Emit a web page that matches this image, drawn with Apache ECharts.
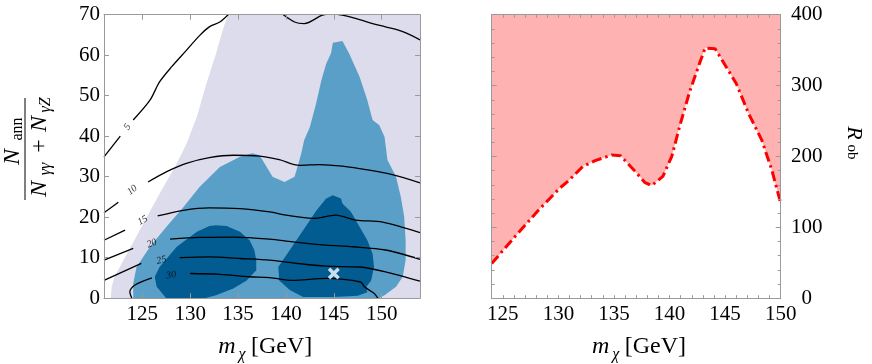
<!DOCTYPE html>
<html>
<head>
<meta charset="utf-8">
<script src="https://cdn.jsdelivr.net/npm/echarts@6/dist/echarts.min.js"></script>
<style>
  html, body { margin: 0; padding: 0; background: #fff; }
  #main { width: 872px; height: 364px; }
</style>
</head>
<body>
<div id="main"></div>
<script>
// ---- left panel: filled regions (m_chi, ratio) ----
const lavenderRegion = [[121.7,0],[121.8,2.8],[122.1,5.3],[123.4,11],[125.1,18.4],[126.8,25.8],[128.4,32.4],[129.6,38],[130.7,44.8],[131.7,53],[132.7,60.4],[133.4,66.2],[133.95,70],[154,70],[154,0]];
const blueRegion = [[124.05,0],[124.05,3.6],[124.4,7.7],[125.8,12.7],[127.5,17.6],[129.3,22.5],[131,27.5],[133.1,32.4],[135.2,34.9],[136.5,35.8],[137.25,35.3],[138.6,30],[139.85,28.7],[140.9,30],[141.2,32.4],[141.6,35.7],[141.9,39],[142.5,42.3],[143.15,48.1],[143.7,53.8],[144.2,57.9],[144.7,60.4],[144.9,63.1],[145.9,63.5],[146.6,60.4],[147.7,54.6],[148.5,48.9],[149.05,44],[149.75,42.7],[150.3,39.8],[150.6,34.1],[151.5,30],[152,25],[152.35,20.1],[152.5,14.3],[152.5,9.4],[152.2,5.3],[151.5,2.8],[150.3,0.7],[149.75,0]];
const darkRegionA = [[127.5,0],[126.5,2.8],[126.3,5.3],[126.8,7.7],[128.6,12.7],[130.7,16.4],[132,17.8],[132.7,18.0],[133.8,17.8],[135.2,16.4],[136.2,14.3],[136.7,11.9],[136.9,9.4],[136.9,6.9],[135.9,4.4],[134.5,2.4],[132.7,0.7],[131.5,0]];
const darkRegionB = [[141.8,0.3],[140.4,2.0],[139.3,4.4],[139.2,7.7],[140.4,11.9],[141.8,16.8],[143.2,21.7],[144.2,24.6],[144.9,25.4],[145.75,24.6],[145.9,23.4],[146.8,21.3],[147.7,17.6],[148.5,14.3],[149.05,11],[149.2,7.7],[148.9,4.4],[148.4,2.8],[148.5,1.5],[147.5,0.6],[145,0.3]];

// ---- left panel: contour lines ----
const contour5a = [[121,34.9],[122.7,40]];
const contour5b = [[124.05,44],[125.8,48.9],[126.8,53.4],[128.05,57.1],[129.6,61.2],[131,64.9],[132,67],[133.1,68.2],[134.1,70.3]];
const contour5c = [[139.5,70.4],[140.9,68.2],[141.9,67.8],[143.8,69.9],[144.8,70.3],[145.9,69.9],[147.7,68.8],[149.05,67.8],[150.4,67],[152.2,65.8],[154,63.8]];
const contour10a = [[121,21.1],[122.5,23.7]];
const contour10b = [[125.6,28.7],[127.5,31.2],[129.6,33.3],[132,34.7],[134.5,35.3],[137.25,35.1],[139.3,34.2],[141.4,32.8],[143.5,33.0],[145.9,32.6],[148.7,31.6],[151.1,30.5],[154,28.5]];
const contour15a = [[121,14.3],[123.2,16.8]];
const contour15b = [[126.6,20.3],[129.3,21.7],[132,22.3],[135.2,22.1],[138.3,21.3],[140,20.5],[142.8,19.7],[145.2,20.5],[147.3,19.3],[150.1,18.8],[154,16.2]];
const contour20a = [[121,9.4],[124.05,12.3]];
const contour20b = [[127.9,14.6],[131,15.0],[134.5,15.1],[138.3,14.6],[140.7,13.9],[144.2,13.1],[147,12.7],[150.4,11.9],[154,9.6]];
const contour25a = [[121,4.4],[124.9,8.6]];
const contour25b = [[128.9,10.0],[132,10.2],[135.2,9.8],[138.3,9.4],[140.7,8.7],[144.2,7.9],[147.7,7.7],[150.4,6.5],[154,4.2]];
const contour30a = [[123.9,0],[123.7,1.6],[124.2,3.2],[126,5.0]];
const contour30b = [[130,6.1],[133.1,5.9],[136.2,5.3],[138.3,5.1],[140.7,4.4],[144.2,4.9],[147.8,4.0],[148.2,2.8],[149.2,1.2],[149.6,0]];
// label text, x, y, angle
const contourLabels = [['5',123.45,42.3,55],['10',123.95,26.7,38],['15',125.05,19.2,30],['20',126.0,13.5,22],['25',127.0,9.4,15],['30',128.0,5.7,8]];
const bestFit = [[145,6.1]];

// ---- right panel: R^ob bound ----
const massR = [124.0,126.1,128.2,130.1,131.0,132.2,133.3,134.8,135.6,136.9,137.8,138.4,139.4,140.2,140.9,141.8,142.6,143.2,144.1,144.8,146.0,147.1,148.3,149.2,150.0];
const robR  = [49,87,124,155,167,186,194,202,201,179,163,159,172,200,242,291,327,353,352,334,303,261,223,181,134];

// ---- ticks ----
const xTicksL = [125,130,135,140,145,150];
const xTicksR = [125,130,135,140,145,150];

const FONT = 'Liberation Serif';
const FRAME = '#9a9a9a';

const chart = echarts.init(document.getElementById('main'));

function region(data, color, z) {
  return {
    type: 'custom', xAxisIndex: 0, yAxisIndex: 0, z: z, clip: true,
    data: [[data[0][0], data[0][1]]],
    renderItem: function (params, api) {
      return {
        type: 'polygon',
        shape: { points: data.map(p => api.coord(p)) },
        style: { fill: color }
      };
    }
  };
}
function contour(data) {
  return {
    type: 'line', xAxisIndex: 0, yAxisIndex: 0, z: 5, data: data,
    showSymbol: false, smooth: 0.3, clip: true, silent: true,
    lineStyle: { color: '#000', width: 1.3 }
  };
}
function frameAxis(grid, pos, min, max, extra) {
  return Object.assign({
    type: 'value', gridIndex: grid, position: pos, min: min, max: max, z: 10,
    axisLine: { show: true, onZero: false, lineStyle: { color: FRAME, width: 1 } },
    axisTick: { show: true, inside: true, length: 5, lineStyle: { color: FRAME } },
    axisLabel: { show: false },
    splitLine: { show: false }
  }, extra);
}
const tickLabel = { color: '#000', fontFamily: FONT, fontSize: 21 };

chart.setOption({
  animation: false,
  grid: [
    { left: 104, top: 14.7, width: 316, height: 283.5 },
    { left: 491.7, top: 14.7, width: 289, height: 283.5 }
  ],
  xAxis: [
    frameAxis(0, 'bottom', 121, 154, {
      axisTick: { show: true, inside: true, length: 5, customValues: xTicksL, lineStyle: { color: FRAME } },
      axisLabel: Object.assign({ show: true, margin: 6, customValues: xTicksL }, tickLabel)
    }),
    frameAxis(0, 'top', 121, 154, {
      axisTick: { show: true, inside: true, length: 5, customValues: xTicksL, lineStyle: { color: FRAME } }
    }),
    frameAxis(1, 'bottom', 124, 150, {
      interval: 1,
      axisTick: { show: true, inside: true, length: 3, lineStyle: { color: FRAME } },
      axisLabel: Object.assign({ show: true, margin: 6, customValues: xTicksR }, tickLabel)
    }),
    frameAxis(1, 'top', 124, 150, {
      interval: 1,
      axisTick: { show: true, inside: true, length: 3, lineStyle: { color: FRAME } }
    })
  ],
  yAxis: [
    frameAxis(0, 'left', 0, 70, {
      interval: 10,
      axisLabel: Object.assign({ show: true, margin: 4 }, tickLabel)
    }),
    frameAxis(0, 'right', 0, 70, { interval: 10 }),
    frameAxis(1, 'right', 0, 400, {
      interval: 100,
      minorTick: { show: true, splitNumber: 5, length: 3, lineStyle: { color: FRAME } },
      axisLabel: Object.assign({ show: true, margin: 26, align: 'center' }, tickLabel)
    }),
    frameAxis(1, 'left', 0, 400, {
      interval: 100,
      minorTick: { show: true, splitNumber: 5, length: 3, lineStyle: { color: FRAME } }
    })
  ],
  series: [
    region(lavenderRegion, '#dcdcec', 1),
    region(blueRegion, '#5a9fc8', 2),
    region(darkRegionA, '#035c91', 3),
    region(darkRegionB, '#035c91', 3),
    contour(contour5a), contour(contour5b), contour(contour5c),
    contour(contour10a), contour(contour10b),
    contour(contour15a), contour(contour15b),
    contour(contour20a), contour(contour20b),
    contour(contour25a), contour(contour25b),
    contour(contour30a), contour(contour30b),
    {
      type: 'scatter', xAxisIndex: 0, yAxisIndex: 0, z: 6, symbolSize: 0, silent: true,
      data: contourLabels.map(c => ({
        value: [c[1], c[2]], name: c[0],
        label: { rotate: c[3] }
      })),
      label: {
        show: true, position: 'inside', formatter: '{b}',
        color: '#000', fontFamily: FONT, fontSize: 10, fontStyle: 'italic'
      }
    },
    {
      type: 'scatter', xAxisIndex: 0, yAxisIndex: 0, z: 7, silent: true,
      symbol: 'path://M2,0 L5,3 L8,0 L10,2 L7,5 L10,8 L8,10 L5,7 L2,10 L0,8 L3,5 L0,2 Z',
      symbolSize: 12,
      itemStyle: { color: '#fff' },
      data: bestFit
    },
    {
      type: 'line', xAxisIndex: 2, yAxisIndex: 2, z: 3, silent: true,
      data: massR.map((m, i) => [m, robR[i]]),
      showSymbol: false,
      lineStyle: { color: '#ff0000', width: 3, type: [10, 4, 2.5, 4], cap: 'butt' },
      areaStyle: { origin: 'end', color: '#ffb2b2', opacity: 1 }
    }
  ],
  graphic: { elements: [
    // left y title: N_ann / (N_γγ + N_γZ)
    { type: 'text', x: 12.5, y: 157, rotation: Math.PI / 2,
      style: { text: 'N', font: 'italic 24px ' + FONT, fill: '#000', align: 'center', verticalAlign: 'middle' } },
    { type: 'text', x: 17.5, y: 129, rotation: Math.PI / 2,
      style: { text: 'ann', font: '16px ' + FONT, fill: '#000', align: 'center', verticalAlign: 'middle' } },
    { type: 'line', shape: { x1: 25, y1: 98, x2: 25, y2: 200 }, style: { stroke: '#000', lineWidth: 1 } },
    { type: 'text', x: 39.5, y: 189, rotation: Math.PI / 2,
      style: { text: 'N', font: 'italic 24px ' + FONT, fill: '#000', align: 'center', verticalAlign: 'middle' } },
    { type: 'text', x: 46, y: 169, rotation: Math.PI / 2,
      style: { text: 'γγ', font: 'italic 16px ' + FONT, fill: '#000', align: 'center', verticalAlign: 'middle' } },
    { type: 'text', x: 39.5, y: 146, rotation: Math.PI / 2,
      style: { text: '+', font: '24px ' + FONT, fill: '#000', align: 'center', verticalAlign: 'middle' } },
    { type: 'text', x: 39.5, y: 124, rotation: Math.PI / 2,
      style: { text: 'N', font: 'italic 24px ' + FONT, fill: '#000', align: 'center', verticalAlign: 'middle' } },
    { type: 'text', x: 46, y: 105, rotation: Math.PI / 2,
      style: { text: 'γZ', font: 'italic 16px ' + FONT, fill: '#000', align: 'center', verticalAlign: 'middle' } },
    // left x title
    { type: 'text', x: 227, y: 347,
      style: { text: 'm', font: 'italic 24px ' + FONT, fill: '#000', align: 'center', verticalAlign: 'middle' } },
    { type: 'text', x: 242, y: 355,
      style: { text: 'χ', font: 'italic 16px ' + FONT, fill: '#000', align: 'center', verticalAlign: 'middle' } },
    { type: 'text', x: 251, y: 347,
      style: { text: '[GeV]', font: '24px ' + FONT, fill: '#000', align: 'left', verticalAlign: 'middle' } },
    // right x title
    { type: 'text', x: 600.7, y: 347,
      style: { text: 'm', font: 'italic 24px ' + FONT, fill: '#000', align: 'center', verticalAlign: 'middle' } },
    { type: 'text', x: 615.7, y: 355,
      style: { text: 'χ', font: 'italic 16px ' + FONT, fill: '#000', align: 'center', verticalAlign: 'middle' } },
    { type: 'text', x: 624.7, y: 347,
      style: { text: '[GeV]', font: '24px ' + FONT, fill: '#000', align: 'left', verticalAlign: 'middle' } },
    // right y title R^ob
    { type: 'text', x: 854, y: 133, rotation: -Math.PI / 2,
      style: { text: 'R', font: 'italic 22px ' + FONT, fill: '#000', align: 'center', verticalAlign: 'middle' } },
    { type: 'text', x: 852, y: 152, rotation: -Math.PI / 2,
      style: { text: 'ob', font: '15px ' + FONT, fill: '#000', align: 'center', verticalAlign: 'middle' } }
  ] }
});
</script>
</body>
</html>
